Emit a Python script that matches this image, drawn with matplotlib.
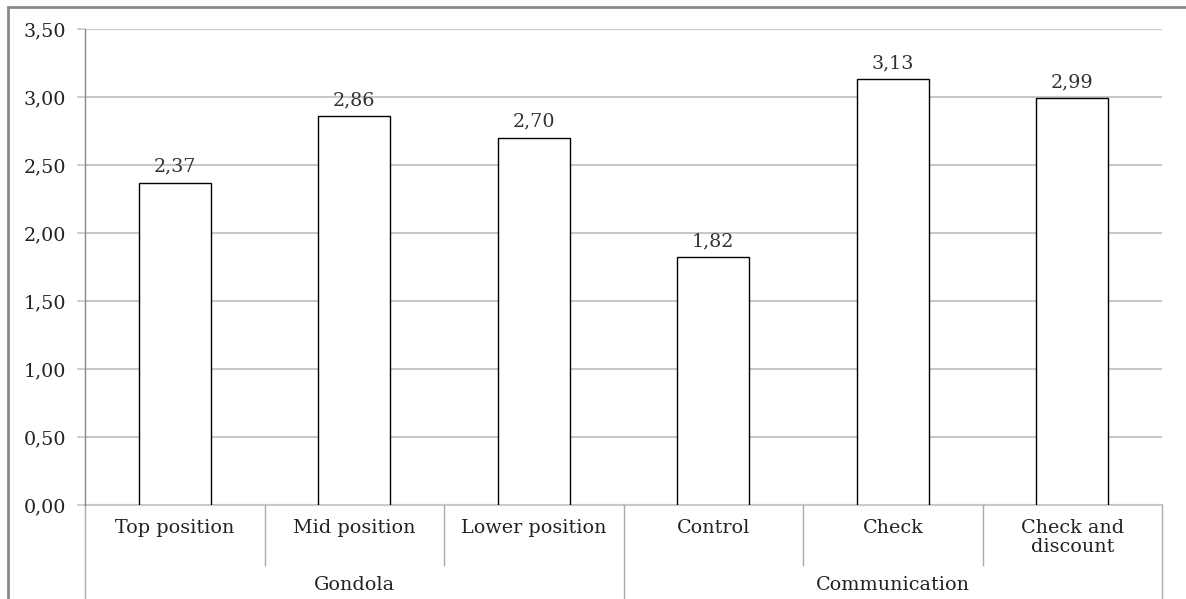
import numpy as np
import matplotlib
matplotlib.use('Agg')
import matplotlib.pyplot as plt
import matplotlib.ticker as mticker
import matplotlib.patches as mpatches
from matplotlib.transforms import blended_transform_factory

# chart data
categories = ['Top position', 'Mid position', 'Lower position', 'Control', 'Check', 'Check and\ndiscount']
values = [2.37, 2.86, 2.70, 1.82, 3.13, 2.99]
groups = ['Gondola', 'Communication']
group_sizes = [3, 3]
yticks = [0.0, 0.5, 1.0, 1.5, 2.0, 2.5, 3.0, 3.5]

plt.rcParams['font.family'] = ['DejaVu Serif']
FS = 13.8

W, H = 1186, 599
fig = plt.figure(figsize=(W / 100, H / 100), dpi=100)

def fx(px):
  return px / W

def fy(py):
  return 1 - py / H

# plot area in pixels
left, right, top, bottom = 85, 1162, 29, 505
ax = fig.add_axes([fx(left), fy(bottom), fx(right - left), (bottom - top) / H])

x = np.arange(len(categories))
ax.bar(x, values, 0.4, color='white', edgecolor='black', linewidth=1.0, zorder=3)

for xi, v in zip(x, values):
  ax.annotate(('%.2f' % v).replace('.', ','), (xi, v), xytext=(0, 5), textcoords='offset points',
              ha='center', va='bottom', fontsize=FS, color='#333333')

ax.set_xlim(-0.5, len(categories) - 0.5)
ax.set_ylim(yticks[0], yticks[-1])
ax.set_yticks(yticks)
ax.yaxis.set_major_formatter(mticker.FuncFormatter(lambda v, p: ('%.2f' % v).replace('.', ',')))
ax.tick_params(axis='y', length=5.8, width=1.2, color='#c8c8c8', labelsize=FS, labelcolor='#222222', pad=8)
ax.tick_params(axis='x', bottom=False, labelbottom=False)
ax.grid(True, axis='y', color='#c8c8c8', linewidth=1.5, zorder=0)
ax.set_axisbelow(True)
for s in ['top', 'right', 'bottom']:
  ax.spines[s].set_visible(False)
ax.spines['left'].set_color('#888888')
ax.spines['left'].set_linewidth(1.0)

# category axis drawn below the plot
tr = blended_transform_factory(ax.transData, fig.transFigure)
y0 = fy(bottom)
y_short = fy(565)
y_end = 0.0
ax.plot([-0.5, len(categories) - 0.5], [y0, y0], transform=tr, color='#c8c8c8', lw=1.5, clip_on=False)

edges = np.concatenate([[0], np.cumsum(group_sizes)]) - 0.5
for i in range(1, len(categories)):
  b = i - 0.5
  if b in edges:
    continue
  ax.plot([b, b], [y0, y_short], transform=tr, color='#aaaaaa', lw=1.0, clip_on=False)
for b in edges:
  ax.plot([b, b], [y0, y_end], transform=tr, color='#aaaaaa', lw=1.0, clip_on=False)

for xi, c in zip(x, categories):
  ax.text(xi, fy(519), c, transform=tr, ha='center', va='top', fontsize=FS, color='#222222', linespacing=1.08)

for g, a, b in zip(groups, edges[:-1], edges[1:]):
  ax.text((a + b) / 2, fy(585), g, transform=tr, ha='center', va='center', fontsize=FS, color='#222222')

# outer chart frame
fig.patches.append(mpatches.Rectangle((fx(8), -0.05), 1.1, fy(7) + 0.05, transform=fig.transFigure,
                                      fill=False, edgecolor='#888888', linewidth=2.0))

fig.savefig('out.png', dpi=100)
